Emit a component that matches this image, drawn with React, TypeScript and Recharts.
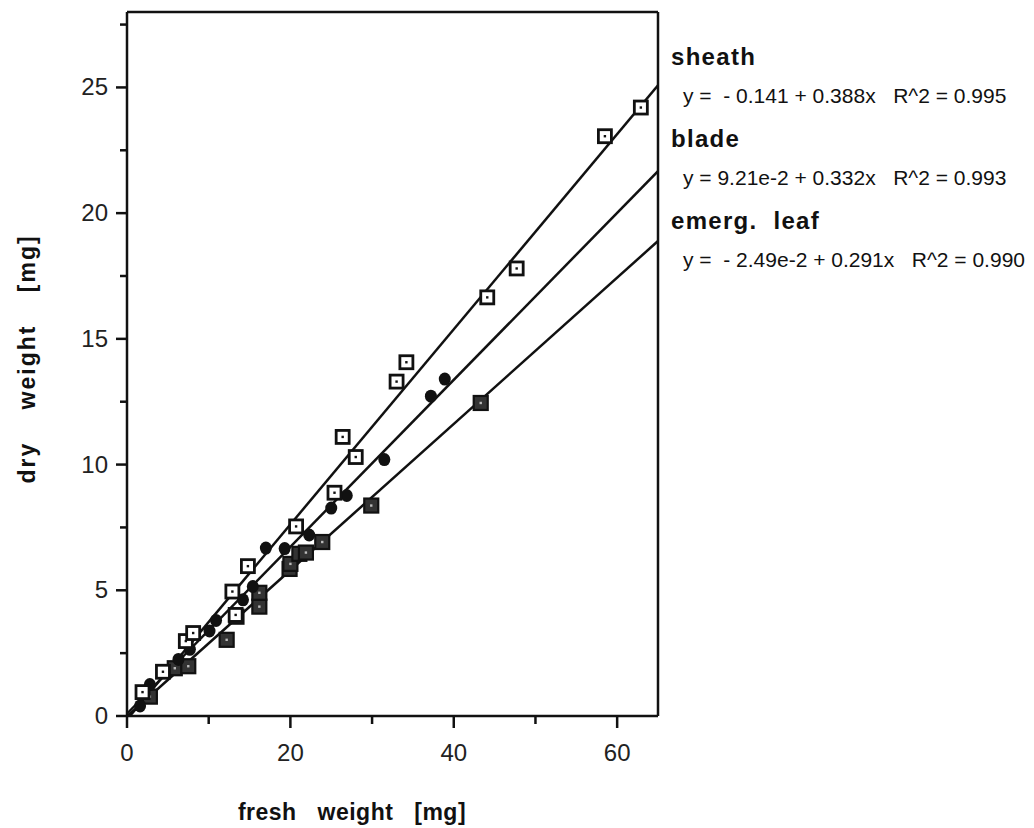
import {
  ComposedChart,
  Customized,
  ReferenceLine,
  Scatter,
  XAxis,
  YAxis,
} from 'recharts';

const FONT = '"Liberation Sans", Arial, sans-serif';

// fresh weight [mg], dry weight [mg]
const sheathPoints: [number, number][] = [
  [1.9, 0.95], [4.4, 1.76], [7.2, 2.98], [8.1, 3.3], [12.9, 4.95], [13.3, 4.02],
  [14.8, 5.96], [20.7, 7.54], [25.4, 8.88], [26.4, 11.1], [28.0, 10.3],
  [33.0, 13.3], [34.2, 14.07], [44.1, 16.65], [47.7, 17.8], [58.5, 23.06], [62.9, 24.2],
];

const bladePoints: [number, number][] = [
  [1.6, 0.4], [2.8, 1.25], [6.3, 2.25], [7.7, 2.65], [10.1, 3.38], [10.9, 3.8],
  [14.2, 4.62], [15.4, 5.15], [17.0, 6.68], [19.3, 6.66], [22.3, 7.2], [25.0, 8.27],
  [26.9, 8.77], [31.5, 10.2], [37.2, 12.72], [38.9, 13.4],
];

const emergPoints: [number, number][] = [
  [2.8, 0.77], [5.85, 1.9], [7.5, 1.98], [12.2, 3.03], [13.4, 3.95], [16.2, 4.35],
  [16.2, 4.9], [19.9, 5.85], [20.0, 6.05], [21.1, 6.45], [21.9, 6.5], [23.9, 6.92],
  [29.9, 8.37], [43.3, 12.45],
];

// regression line end points (x = 0 and x = 65)
const lineX = [0, 65];
const sheathLine = [-0.14, 25.08];
const bladeLine = [0.09, 21.67];
const emergLine = [-0.02, 18.89];

const xTicks = [0, 10, 20, 30, 40, 50, 60];
const yTicks = [0, 2.5, 5, 7.5, 10, 12.5, 15, 17.5, 20, 22.5, 25, 27.5];

const legendItems = [
  { name: 'sheath', eq: 'y =  - 0.141 + 0.388x   R^2 = 0.995' },
  { name: 'blade', eq: 'y = 9.21e-2 + 0.332x   R^2 = 0.993' },
  { name: 'emerg.  leaf', eq: 'y =  - 2.49e-2 + 0.291x   R^2 = 0.990' },
];

const toXY = (pts: [number, number][]) => pts.map(([x, y]) => ({ x, y }));
const lineData = (ys: number[]) => lineX.map((x, i) => ({ x, y: ys[i] }));

const YTick = ({ x, y, payload }: any) => {
  const major = payload.value % 5 === 0;
  return (
    <g>
      <line x1={x - (major ? 11 : 7)} x2={x} y1={y} y2={y} stroke="#111" strokeWidth={2.5} />
      {major && (
        <text x={x - 19} y={y} dy={8} textAnchor="end" fontFamily={FONT} fontSize={24} fill="#222">
          {payload.value}
        </text>
      )}
    </g>
  );
};

const XTick = ({ x, y, payload }: any) => {
  const major = payload.value % 20 === 0;
  return (
    <g>
      <line x1={x} x2={x} y1={y} y2={y + (major ? 12 : 8)} stroke="#111" strokeWidth={2.5} />
      {major && (
        <text x={x} y={y + 45} textAnchor="middle" fontFamily={FONT} fontSize={24} fill="#222">
          {payload.value}
        </text>
      )}
    </g>
  );
};

const SheathMark = ({ cx, cy }: any) => (
  <g>
    <rect x={cx - 6.5} y={cy - 6.5} width={13} height={13} fill="#fff" stroke="#111" strokeWidth={2.8} />
    <rect x={cx - 1.2} y={cy - 1.2} width={2.4} height={2.4} fill="#111" />
  </g>
);

const BladeMark = ({ cx, cy }: any) => <ellipse cx={cx} cy={cy} rx={6} ry={6.5} fill="#111" />;

const EmergMark = ({ cx, cy }: any) => (
  <g>
    <rect x={cx - 7} y={cy - 7} width={14} height={14} fill="#333" stroke="#111" strokeWidth={2.2} />
    <rect x={cx - 1.2} y={cy - 1.2} width={2.4} height={2.4} fill="#bbb" />
  </g>
);

const NoMark = () => <g />;

const Legend = () => (
  <g fontFamily={FONT} fill="#111">
    {legendItems.map((it, i) => (
      <g key={it.name}>
        <text x={671} y={65 + i * 82} fontSize={24} fontWeight="bold" letterSpacing={1.3} style={{ whiteSpace: 'pre' }}>
          {it.name}
        </text>
        <text x={683} y={103 + i * 82} fontSize={21} style={{ whiteSpace: 'pre' }}>
          {it.eq}
        </text>
      </g>
    ))}
    <text
      x={352}
      y={820}
      textAnchor="middle"
      fontSize={23}
      fontWeight="bold"
      letterSpacing={0.5}
      wordSpacing={14}
    >
      fresh weight [mg]
    </text>
    <text
      x={35}
      y={359}
      textAnchor="middle"
      fontSize={23}
      fontWeight="bold"
      letterSpacing={2}
      wordSpacing={24}
      transform="rotate(-90, 35, 359)"
    >
      dry weight [mg]
    </text>
  </g>
);

export default function App() {
  return (
    <div style={{ position: 'absolute', left: 0, top: 0, width: 1034, height: 828, background: '#fff' }}>
      <ComposedChart
        width={1034}
        height={828}
        margin={{ top: 12, right: 376, bottom: 72, left: 67 }}
      >
        <XAxis
          type="number"
          dataKey="x"
          domain={[0, 65]}
          ticks={xTicks}
          allowDataOverflow
          axisLine={{ stroke: '#111', strokeWidth: 2.5 }}
          tickLine={false}
          tickSize={0}
          tickMargin={0}
          tick={<XTick />}
          height={40}
        />
        <YAxis
          type="number"
          dataKey="y"
          domain={[0, 28]}
          ticks={yTicks}
          allowDataOverflow
          axisLine={{ stroke: '#111', strokeWidth: 2.5 }}
          tickLine={false}
          tickSize={0}
          tickMargin={0}
          tick={<YTick />}
          width={60}
        />
        <ReferenceLine y={28} stroke="#111" strokeWidth={2.5} />
        <ReferenceLine x={65} stroke="#111" strokeWidth={2.5} />
        <Scatter data={lineData(sheathLine)} line={{ stroke: '#111', strokeWidth: 2.5 }} shape={<NoMark />} isAnimationActive={false} />
        <Scatter data={lineData(bladeLine)} line={{ stroke: '#111', strokeWidth: 2.5 }} shape={<NoMark />} isAnimationActive={false} />
        <Scatter data={lineData(emergLine)} line={{ stroke: '#111', strokeWidth: 2.5 }} shape={<NoMark />} isAnimationActive={false} />
        <Scatter data={toXY(emergPoints)} shape={<EmergMark />} isAnimationActive={false} />
        <Scatter data={toXY(bladePoints)} shape={<BladeMark />} isAnimationActive={false} />
        <Scatter data={toXY(sheathPoints)} shape={<SheathMark />} isAnimationActive={false} />
        <Customized component={<Legend />} />
      </ComposedChart>
    </div>
  );
}
